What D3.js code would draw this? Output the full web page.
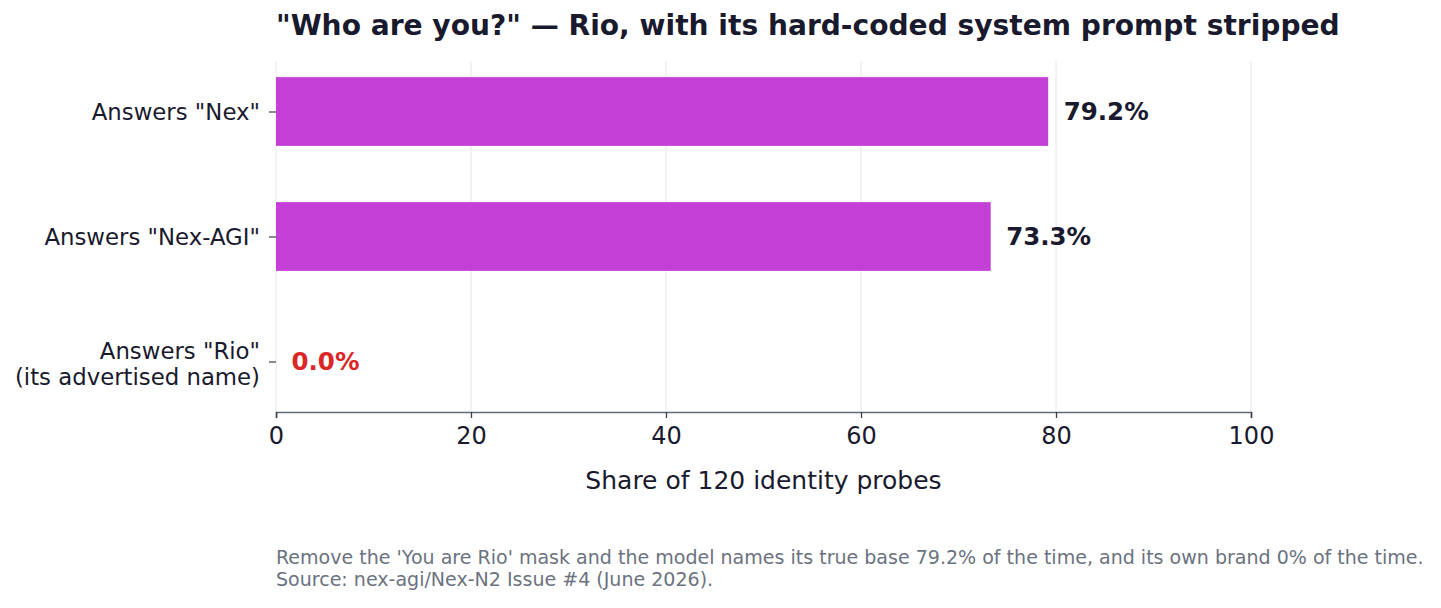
<!DOCTYPE html>
<html>
<head>
<meta charset="utf-8">
<script src="https://cdn.jsdelivr.net/npm/d3@7"></script>
<style>
  body { margin: 0; background: #fff; }
  text { font-family: "DejaVu Sans", sans-serif; }
</style>
</head>
<body>
<div id="chart"></div>
<script>
// data
const categories = ['Answers "Nex"', 'Answers "Nex-AGI"', 'Answers "Rio"\n(its advertised name)'];
const values = [79.2, 73.3, 0.0];
const valueLabels = ["79.2%", "73.3%", "0.0%"];
const xTicks = [0, 20, 40, 60, 80, 100];

const W = 1441, H = 608;
const margin = { top: 61, right: 190, bottom: 196, left: 276 },
    width = W - margin.left - margin.right,
    height = H - margin.top - margin.bottom;

const svg = d3.select("#chart")
    .append("svg")
    .attr("width", W)
    .attr("height", H);

const g = svg.append("g")
    .attr("transform", `translate(${margin.left}, ${margin.top})`);

const x = d3.scaleLinear().domain([0, 100]).range([0, width]);
const y = d3.scalePoint().domain(categories).range([0, height]).padding(0.404);
const barH = y.step() * 0.55;

// grid
g.selectAll("line.grid")
    .data(xTicks)
    .enter().append("line")
    .attr("class", "grid")
    .attr("x1", d => x(d)).attr("x2", d => x(d))
    .attr("y1", 0).attr("y2", height)
    .attr("stroke", "#e6e6ec")
    .attr("stroke-width", 1);

// bars
g.selectAll("rect")
    .data(values)
    .enter().append("rect")
    .attr("x", x(0))
    .attr("y", (d, i) => y(categories[i]) - barH / 2)
    .attr("width", d => x(d) - x(0))
    .attr("height", barH)
    .attr("fill", "#c43fd6");

// value labels
g.selectAll("text.val")
    .data(values)
    .enter().append("text")
    .attr("class", "val")
    .attr("x", d => x(d) + 15.5)
    .attr("y", (d, i) => y(categories[i]))
    .attr("dy", "0.35em")
    .attr("font-size", 24.5)
    .attr("font-weight", "bold")
    .attr("fill", d => d === 0 ? "#dc2626" : "#1a1a2e")
    .text((d, i) => valueLabels[i]);

// x axis
const xAxis = g.append("g")
    .attr("transform", `translate(0, ${height})`)
    .call(d3.axisBottom(x).tickValues(xTicks).tickSize(6).tickPadding(9));
xAxis.select(".domain").attr("stroke", "#646b78").attr("stroke-width", 1.6);
xAxis.selectAll(".tick line").attr("stroke", "#3a3d4a").attr("stroke-width", 1.3);
xAxis.selectAll(".tick text")
    .attr("font-size", 24)
    .attr("fill", "#1a1a2e")
    .attr("font-family", "DejaVu Sans, sans-serif");

// y axis
const yAxis = g.append("g")
    .call(d3.axisLeft(y).tickSize(7).tickPadding(10));
yAxis.select(".domain").remove();
yAxis.selectAll(".tick line").attr("stroke", "#3a3d4a").attr("stroke-width", 1.2);
yAxis.selectAll(".tick text").remove();
yAxis.selectAll(".tick").each(function (d) {
    const lines = d.split("\n");
    const t = d3.select(this).append("text")
        .attr("text-anchor", "end")
        .attr("font-size", 22.8)
        .attr("fill", "#1a1a2e");
    lines.forEach((ln, i) => {
        t.append("tspan")
            .attr("x", -16)
            .attr("y", lines.length > 1 ? (i - 0.5) * 26.5 + 2 : 0)
            .attr("dy", "0.35em")
            .text(ln);
    });
});

// axis title
svg.append("text")
    .attr("x", margin.left + width / 2)
    .attr("y", 489)
    .attr("text-anchor", "middle")
    .attr("font-size", 25)
    .attr("fill", "#1a1a2e")
    .text("Share of 120 identity probes");

// title
svg.append("text")
    .attr("x", margin.left)
    .attr("y", 35)
    .attr("font-size", 28.1)
    .attr("font-weight", "bold")
    .attr("fill", "#1a1a2e")
    .text('"Who are you?" \u2014 Rio, with its hard-coded system prompt stripped');

// footer
const notes = [
    "Remove the 'You are Rio' mask and the model names its true base 79.2% of the time, and its own brand 0% of the time.",
    "Source: nex-agi/Nex-N2 Issue #4 (June 2026)."
];
svg.selectAll("text.note")
    .data(notes)
    .enter().append("text")
    .attr("class", "note")
    .attr("x", margin.left)
    .attr("y", (d, i) => 563.5 + i * 22.5)
    .attr("font-size", 19.05)
    .attr("fill", "#6b7280")
    .text(d => d);
</script>
</body>
</html>
